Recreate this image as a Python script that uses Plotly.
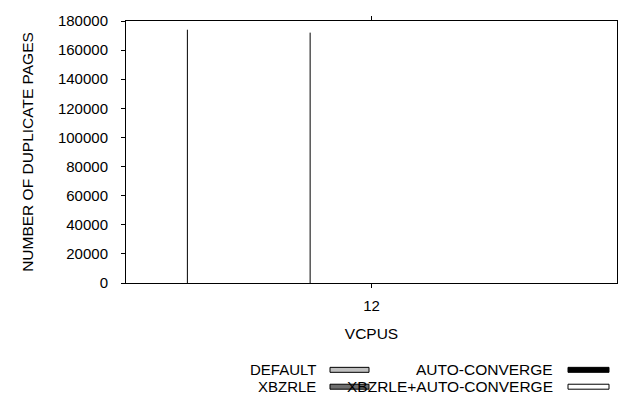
import plotly.graph_objects as go

series = ["DEFAULT", "XBZRLE", "AUTO-CONVERGE", "XBZRLE+AUTO-CONVERGE"]
values = [174000, 172000, 0, 0]
offsets = [-3, -1, 1, 3]
colors = ["#c0c0c0", "#6e6e6e", "#000000", "#ffffff"]
category = 12
y_ticks = [0, 20000, 40000, 60000, 80000, 100000, 120000, 140000, 160000, 180000]

FONT = "Liberation Sans, Arial, sans-serif"

fig = go.Figure()
for name, v, off in zip(series, values, offsets):
    fig.add_trace(go.Scatter(
        x=[category + off, category + off], y=[0, v], mode="lines",
        line=dict(color="black", width=1), name=name, showlegend=False,
        hoverinfo="skip"))

# gnuplot-style key at bottom right
L, R, T, B = 126, 617, 19, 283
W, H = R - L, B - T
def px(x):
    return (x - L) / W
def py(y):
    return (B - y) / H

key = [
    (series[0], colors[0], 318, 330, 369, 370.5, 15),
    (series[1], colors[1], 318, 330, 369, 387.5, 15),
    (series[2], colors[2], 555, 568, 609, 370.5, 15.5),
    (series[3], colors[3], 555, 568, 609, 387.5, 15.5),
]
for name, col, tx, bx0, bx1, yc, fs in key:
    fig.add_annotation(x=px(tx), y=py(yc), xref="paper", yref="paper",
                       text=name, showarrow=False, xanchor="right", yanchor="middle",
                       font=dict(family=FONT, size=fs, color="black"))
    fig.add_shape(type="rect", xref="paper", yref="paper",
                  x0=px(bx0), x1=px(bx1), y0=py(yc - 2.5), y1=py(yc + 2.5),
                  fillcolor=col, line=dict(color="black", width=1))

fig.update_layout(
    width=640, height=405,
    margin=dict(l=L, r=640 - R, t=T, b=405 - B),
    plot_bgcolor="white", paper_bgcolor="white",
    font=dict(family=FONT, size=15, color="black"),
    showlegend=False,
    xaxis=dict(range=[category - 4, category + 4], tickvals=[category],
               ticktext=[str(category)], ticks="outside", ticklen=4,
               tickcolor="black", showline=True, linecolor="black",
               linewidth=1, mirror="ticks", showgrid=False, zeroline=False,
               ticklabelstandoff=5,
               title=dict(text="VCPUS", standoff=15, font=dict(size=15.5)),
               tickfont=dict(size=15)),
    yaxis=dict(range=[0, 180000], tickvals=y_ticks,
               ticktext=[str(v) for v in y_ticks], ticks="outside",
               ticklen=4, tickcolor="black", showline=True, linecolor="black",
               linewidth=1, mirror=True, showgrid=False, zeroline=False,
               ticklabelstandoff=10,
               title=dict(text="NUMBER OF DUPLICATE PAGES", standoff=20,
                          font=dict(size=15.5)),
               tickfont=dict(size=15)),
)

fig.write_html("out.html")
